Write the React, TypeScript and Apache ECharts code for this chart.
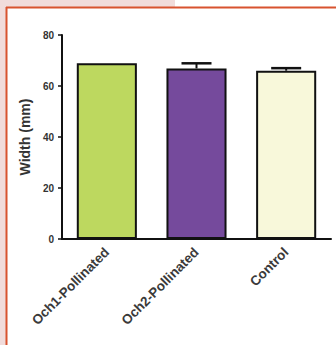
import React, { useEffect, useRef } from "react";
import * as echarts from "echarts";

const categories = ["Och1-Pollinated", "Och2-Pollinated", "Control"];
const widths = [68.9, 66.9, 66.0];
const errors = [0, 2.0, 1.0];
const barColors = ["#bdd85f", "#754a9c", "#f8f8da"];
const yTicks = [0, 20, 40, 60, 80];

export default function App() {
  const ref = useRef<HTMLDivElement>(null);
  useEffect(() => {
    if (!ref.current) return;
    const chart = echarts.init(ref.current, null, { renderer: "svg" });
    const font = "'Liberation Sans', Arial, sans-serif";
    chart.setOption({
      animation: false,
      backgroundColor: "#ffffff",
      graphic: [
        { type: "rect", shape: { x: 0, y: 0, width: 175, height: 7 }, style: { fill: "#f1dcdb" }, silent: true },
        { type: "rect", shape: { x: 0, y: 0, width: 6, height: 345 }, style: { fill: "#f1dcdb" }, silent: true },
        { type: "line", shape: { x1: 6, y1: 7.5, x2: 336, y2: 7.5 }, style: { stroke: "#d8532f", lineWidth: 2 }, silent: true },
        { type: "line", shape: { x1: 6.5, y1: 7, x2: 6.5, y2: 345 }, style: { stroke: "#d8532f", lineWidth: 2 }, silent: true },
      ],
      grid: { left: 62, right: 5, top: 35, bottom: 106, containLabel: false },
      xAxis: {
        type: "category",
        data: categories,
        axisLine: { lineStyle: { color: "#111", width: 2 } },
        axisTick: { alignWithLabel: true, length: 4, lineStyle: { color: "#111", width: 1.5 } },
        axisLabel: { rotate: 45, fontSize: 13.5, fontWeight: "bold", color: "#3a3a3a", fontFamily: font, margin: 11, interval: 0 },
      },
      yAxis: {
        type: "value",
        min: yTicks[0],
        max: yTicks[yTicks.length - 1],
        interval: 20,
        name: "Width (mm)",
        nameLocation: "middle",
        nameGap: 30,
        nameTextStyle: { fontSize: 14, fontWeight: "bold", color: "#333", fontFamily: font },
        axisLine: { show: true, lineStyle: { color: "#111", width: 2 } },
        axisTick: { show: true, length: 4, lineStyle: { color: "#111", width: 1.5 } },
        axisLabel: { fontSize: 10, fontWeight: "bold", color: "#333", fontFamily: font, margin: 8 },
        splitLine: { show: false },
      },
      series: [
        {
          type: "bar",
          barWidth: "67%",
          data: widths.map((v, i) => ({
            value: v,
            itemStyle: { color: barColors[i], borderColor: "#111", borderWidth: 2 },
          })),
          z: 2,
        },
        {
          type: "custom",
          z: 3,
          data: widths.map((v, i) => [i, v, errors[i]]),
          renderItem: (params: any, api: any) => {
            const x = api.value(0);
            const v = api.value(1);
            const e = api.value(2);
            if (!e) return { type: "group", children: [] };
            const base = api.coord([x, v]);
            const top = api.coord([x, v + e]);
            const half = 15;
            return {
              type: "group",
              children: [
                { type: "line", shape: { x1: base[0], y1: base[1], x2: top[0], y2: top[1] }, style: { stroke: "#111", lineWidth: 2 } },
                { type: "line", shape: { x1: top[0] - half, y1: top[1], x2: top[0] + half, y2: top[1] }, style: { stroke: "#111", lineWidth: 2.5 } },
              ],
            };
          },
        },
      ],
    });
    return () => chart.dispose();
  }, []);
  return (
    <div style={{ position: "fixed", left: 0, top: 0, width: 336, height: 345 }}>
      <div ref={ref} style={{ width: 336, height: 345 }} />
    </div>
  );
}
